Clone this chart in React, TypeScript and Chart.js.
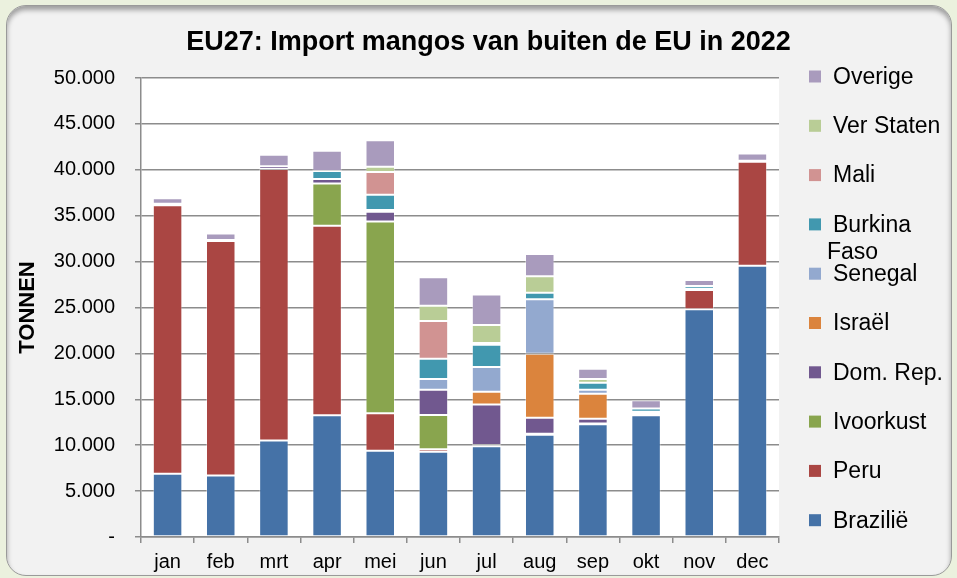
import React, { useEffect, useRef } from 'react';
import { Chart, registerables } from 'chart.js';

Chart.register(...registerables);

const months = ['jan', 'feb', 'mrt', 'apr', 'mei', 'jun', 'jul', 'aug', 'sep', 'okt', 'nov', 'dec'];

const brazilie = [6900, 6700, 10500, 13250, 9400, 9300, 9880, 11150, 12270, 13250, 24800, 29550];
const peru = [29250, 25550, 29600, 20650, 4070, 250, 0, 0, 0, 200, 2100, 11330];
const ivoorkust = [0, 0, 0, 4600, 20900, 3750, 150, 100, 100, 0, 50, 0];
const domRep = [0, 100, 300, 500, 1050, 2750, 4400, 1750, 520, 50, 0, 0];
const israel = [0, 0, 0, 0, 0, 0, 1400, 6950, 2720, 0, 100, 0];
const senegal = [0, 0, 0, 0, 200, 1150, 2700, 5950, 440, 150, 0, 0];
const burkinaFaso = [150, 0, 0, 870, 1650, 2220, 2400, 700, 760, 350, 300, 100];
const mali = [0, 0, 0, 0, 2500, 4100, 200, 0, 0, 0, 0, 0];
const verStaten = [0, 0, 0, 0, 550, 1670, 1960, 1800, 400, 0, 0, 0];
const overige = [600, 700, 1250, 2200, 2900, 3100, 3330, 2430, 1120, 900, 650, 800];

const seriesNames = ['Brazilië', 'Peru', 'Ivoorkust', 'Dom. Rep.', 'Israël', 'Senegal', 'Burkina Faso', 'Mali', 'Ver Staten', 'Overige'];
const seriesColors = ['#4572A7', '#AA4643', '#89A54E', '#71588F', '#DB843D', '#93A9CF', '#4198AF', '#D19392', '#B9CD96', '#A99BBD'];

const titleText = 'EU27: Import mangos van buiten de EU in 2022';
const yAxisTitle = 'TONNEN';
const yMin = 0;
const yMax = 50000;
const yStep = 5000;

const FONT = '"Liberation Sans", Arial, sans-serif';

function fmt(v: number): string {
  if (v === 0) return '-';
  return String(Math.round(v)).replace(/\B(?=(\d{3})+(?!\d))/g, '.');
}

const bgPlugin = {
  id: 'plotBg',
  beforeDatasetsDraw(chart: any) {
    const { ctx, chartArea } = chart;
    ctx.save();
    ctx.globalCompositeOperation = 'destination-over';
    ctx.fillStyle = '#ffffff';
    ctx.fillRect(chartArea.left, chartArea.top, chartArea.right - chartArea.left, chartArea.bottom - chartArea.top);
    ctx.restore();
  },
};

const titlePlugin = {
  id: 'centeredTitle',
  afterDraw(chart: any) {
    const { ctx, width } = chart;
    ctx.save();
    ctx.font = `bold 27px ${FONT}`;
    ctx.fillStyle = '#000';
    ctx.textAlign = 'center';
    ctx.textBaseline = 'middle';
    ctx.fillText(titleText, width / 2 + 10, 43);
    ctx.restore();
  },
};

const legendPlugin = {
  id: 'sideLegend',
  afterDraw(chart: any) {
    const { ctx, chartArea } = chart;
    const ds = chart.data.datasets;
    ctx.save();
    ctx.font = `23px ${FONT}`;
    ctx.textBaseline = 'middle';
    const markerX = chartArea.right + 30;
    const textX = chartArea.right + 54;
    const maxW = 125;
    for (let k = 0; k < ds.length; k++) {
      const i = ds.length - 1 - k;
      const y = chartArea.top - 0.5 + k * 49.3;
      ctx.fillStyle = ds[i].backgroundColor;
      ctx.fillRect(markerX, y - 7, 12, 12);
      ctx.fillStyle = '#000';
      const label: string = ds[i].label;
      if (ctx.measureText(label).width > maxW && label.indexOf(' ') > 0) {
        const idx = label.lastIndexOf(' ');
        ctx.fillText(label.slice(0, idx), textX, y);
        ctx.fillText(label.slice(idx + 1), textX - 6, y + 27.6);
      } else {
        ctx.fillText(label, textX, y);
      }
    }
    ctx.restore();
  },
};

export default function App() {
  const ref = useRef<HTMLCanvasElement>(null);

  useEffect(() => {
    const series = [brazilie, peru, ivoorkust, domRep, israel, senegal, burkinaFaso, mali, verStaten, overige];
    const chart = new Chart(ref.current as HTMLCanvasElement, {
      type: 'bar',
      data: {
        labels: months,
        datasets: series.map((d, i) => ({
          label: seriesNames[i],
          data: d,
          backgroundColor: seriesColors[i],
          borderColor: 'rgba(255,255,255,0.35)',
          borderWidth: 1,
          borderSkipped: false,
          barPercentage: 0.555,
          categoryPercentage: 1,
        })),
      },
      options: {
        animation: false,
        responsive: false,
        maintainAspectRatio: false,
        layout: { padding: { left: 0, right: 178, top: 78, bottom: 0 } },
        plugins: {
          legend: { display: false },
          tooltip: { enabled: false },
          title: { display: false },
        },
        scales: {
          x: {
            stacked: true,
            grid: { display: true, drawOnChartArea: false, drawTicks: true, tickLength: 6, color: '#8c8c8c', lineWidth: 1.5 },
            border: { display: true, color: '#8c8c8c', width: 1.5 },
            ticks: { color: '#000', font: { family: FONT, size: 20 }, padding: 7, maxRotation: 0, autoSkip: false },
            afterFit: (s: any) => { s.height = 41; },
          },
          y: {
            stacked: true,
            min: yMin,
            max: yMax,
            ticks: { stepSize: yStep, color: '#000', font: { family: FONT, size: 20 }, padding: 20, callback: (v: any) => fmt(Number(v)) },
            grid: { color: '#8c8c8c', lineWidth: 1.5, tickLength: 6 },
            border: { display: true, color: '#8c8c8c', width: 1.5 },
            title: { display: true, text: yAxisTitle, color: '#000', font: { family: FONT, size: 22, weight: 'bold' }, padding: { top: 15, bottom: 0 } },
            afterFit: (s: any) => { s.width = 141; },
          },
        },
      } as any,
      plugins: [bgPlugin, titlePlugin, legendPlugin],
    });
    return () => chart.destroy();
  }, []);

  return (
    <div style={{ position: 'fixed', left: 0, top: 0, width: 957, height: 578, background: '#ebf1de', overflow: 'hidden' }}>
      <div
        style={{
          position: 'absolute', left: 6, top: 5, width: 944, height: 569,
          background: '#f2f2f2', border: '1px solid #9a9a9a', borderRadius: 20,
          boxShadow: 'inset 0 4px 5px rgba(0,0,0,0.35)',
        }}
      />
      <canvas ref={ref} width={957} height={578} style={{ position: 'absolute', left: 0, top: 0, width: 957, height: 578 }} />
    </div>
  );
}
